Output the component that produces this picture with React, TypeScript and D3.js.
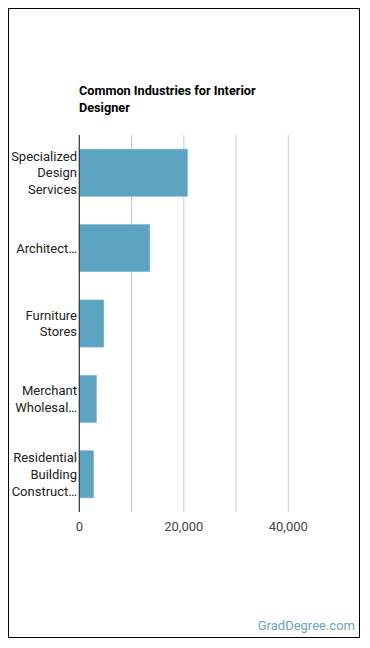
import React from "react";
import * as d3 from "d3";

const categories: string[][] = [
  ["Specialized", "Design", "Services"],
  ["Architect…"],
  ["Furniture", "Stores"],
  ["Merchant", "Wholesal…"],
  ["Residential", "Building", "Construct…"],
];
const values: number[] = [20700, 13500, 4700, 3300, 2750];
const tickValues: number[] = [0, 20000, 40000];
const gridValues: number[] = [10000, 20000, 30000, 40000];
const titleLines: string[] = ["Common Industries for Interior", "Designer"];

const W = 370;
const H = 648;
const plotLeft = 79.3;
const plotTop = 135;
const plotBottom = 512;

export default function App() {
  const x = d3.scaleLinear().domain([0, 10000]).range([plotLeft, plotLeft + 52.25]);
  const y = d3
    .scaleBand<number>()
    .domain(d3.range(values.length))
    .range([plotTop, plotBottom])
    .paddingInner(0.375)
    .paddingOuter(0.1875);
  const fmt = d3.format(",");
  const font = "Roboto, 'Noto Sans', sans-serif";
  const lh = 16.7;

  return (
    <svg
      width={W}
      height={H}
      style={{ position: "absolute", left: 0, top: 0, display: "block" }}
      fontFamily={font}
    >
      <rect x={0} y={0} width={W} height={H} fill="#fff" />
      <rect x={8.5} y={8.5} width={351} height={629} fill="none" stroke="#000" strokeWidth={1} />

      {titleLines.map((t, i) => (
        <text key={i} x={79} y={95 + i * 16.7} fontSize={12.7} fontWeight="bold" fill="#000">
          {t}
        </text>
      ))}

      {gridValues.map((v) => (
        <line
          key={v}
          x1={x(v)}
          x2={x(v)}
          y1={plotTop}
          y2={plotBottom}
          stroke="#cccccc"
          strokeWidth={1}
        />
      ))}

      {values.map((v, i) => (
        <rect
          key={i}
          x={x(0)}
          y={y(i)!}
          width={x(v) - x(0)}
          height={y.bandwidth()}
          fill="#5ca4c1"
          stroke="#7db8cf"
          strokeWidth={0.6}
        />
      ))}

      <line x1={x(0)} x2={x(0)} y1={plotTop} y2={plotBottom} stroke="#333" strokeWidth={1.2} />

      {categories.map((lines, i) => {
        const cy = y(i)! + y.bandwidth() / 2;
        const start = cy - ((lines.length - 1) * lh) / 2;
        return (
          <text key={i} textAnchor="end" fontSize={13} fill="#222">
            {lines.map((l, j) => (
              <tspan key={j} x={77} y={start + j * lh} dy="0.35em">
                {l}
              </tspan>
            ))}
          </text>
        );
      })}

      {tickValues.map((v) => (
        <text key={v} x={x(v)} y={531} textAnchor="middle" fontSize={13} fill="#444">
          {fmt(v)}
        </text>
      ))}

      <text x={355} y={630} textAnchor="end" fontSize={13} fill="#6fa3bb">
        GradDegree.com
      </text>
    </svg>
  );
}
